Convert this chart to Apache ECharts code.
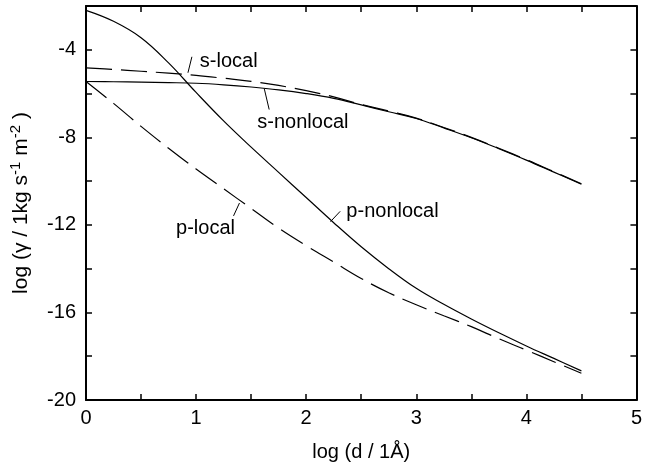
<!DOCTYPE html>
<html>
<head>
<meta charset="utf-8">
<script src="https://cdn.jsdelivr.net/npm/echarts@6/dist/echarts.min.js"></script>
<style>
html,body{margin:0;padding:0;background:#fff;}
#chart{width:645px;height:468px;}
</style>
</head>
<body>
<div id="chart"></div>
<script>
// ---- data ----
const xs = [0, 0.25, 0.5, 0.75, 1.0, 1.25, 1.5, 1.75, 2.0, 2.25, 2.5, 2.75, 3.0, 3.25, 3.5, 3.75, 4.0, 4.25, 4.5];
const sLocal    = [-4.83, -4.9, -4.98, -5.07, -5.17, -5.3, -5.44, -5.63, -5.87, -6.15, -6.5, -6.8, -7.12, -7.55, -8.0, -8.5, -9.02, -9.57, -10.12];
const sNonlocal = [-5.45, -5.46, -5.48, -5.5, -5.53, -5.6, -5.7, -5.83, -6.0, -6.22, -6.52, -6.83, -7.14, -7.57, -8.02, -8.52, -9.04, -9.59, -10.14];
const pLocal    = [-5.45, -6.45, -7.5, -8.5, -9.45, -10.35, -11.25, -12.15, -12.95, -13.7, -14.45, -15.1, -15.65, -16.15, -16.65, -17.2, -17.72, -18.25, -18.78];
const pNonlocal = [-2.2, -2.7, -3.45, -4.6, -5.95, -7.25, -8.45, -9.6, -10.75, -11.9, -13.0, -14.0, -14.9, -15.63, -16.3, -16.93, -17.53, -18.1, -18.67];
const xTickLabels = [0, 1, 2, 3, 4, 5];
const yTickLabels = [-4, -8, -12, -16, -20];
// annotation labels: text, anchor (data coords), leader line from/to (data coords)
const annText  = ['s-local', 's-nonlocal', 'p-nonlocal', 'p-local'];
const annAt    = [[1.034, -4.52], [1.556, -7.32], [2.365, -11.41], [0.818, -12.18]];
const annFrom  = [[0.962, -4.32], [1.619, -5.77], [2.309, -11.38], [1.394, -11.0]];
const annTo    = [[0.926, -5.05], [1.664, -6.73], [2.221, -11.85], [1.34, -11.59]];

const FONT = '"Liberation Sans", Arial, Helvetica, sans-serif';
const pairs = ys => xs.map((x, i) => [x, ys[i]]);

const chart = echarts.init(document.getElementById('chart'), null, {renderer: 'canvas'});

const axisCommon = {
  axisLine: {show: true, onZero: false, lineStyle: {color: '#000', width: 2}},
  axisTick: {show: true, inside: true, length: 6, lineStyle: {color: '#000', width: 1.5}},
  splitLine: {show: false}
};

function lineSeries(name, ys, dashed) {
  return {
    name: name, type: 'line', data: pairs(ys),
    showSymbol: false, symbol: 'none', smooth: 0.4,
    lineStyle: {color: '#000', width: 1.2, type: dashed ? [26, 9] : 'solid'},
    silent: true, animation: false
  };
}

chart.setOption({
  animation: false,
  backgroundColor: '#fff',
  grid: {left: 84, right: 5, top: 6, bottom: 68},
  xAxis: [
    Object.assign({}, axisCommon, {
      type: 'value', position: 'bottom', min: 0, max: 5, interval: 0.5,
      axisLabel: {
        color: '#000', fontSize: 20, fontFamily: FONT, margin: 8,
        formatter: v => xTickLabels.indexOf(v) >= 0 ? String(v) : ''
      },
      name: 'log (d / 1Å)', nameLocation: 'middle', nameGap: 42,
      nameTextStyle: {color: '#000', fontSize: 20, fontFamily: FONT}
    }),
    Object.assign({}, axisCommon, {
      type: 'value', position: 'top', min: 0, max: 5, interval: 0.5,
      axisLabel: {show: false}
    })
  ],
  yAxis: [
    Object.assign({}, axisCommon, {
      type: 'value', position: 'left', min: -20, max: -2, interval: 2,
      axisLabel: {
        color: '#000', fontSize: 20, fontFamily: FONT, margin: 10,
        formatter: v => yTickLabels.indexOf(v) >= 0 ? String(v) : ''
      },
      name: '{a|log (γ / 1kg s}{s|-1}{a| m}{s|-2}{a| )}',
      nameLocation: 'middle', nameGap: 52, nameRotate: 90,
      nameTextStyle: {
        color: '#000', fontFamily: FONT,
        rich: {
          a: {fontSize: 21, fontFamily: FONT, color: '#000', lineHeight: 26},
          s: {fontSize: 15, fontFamily: FONT, color: '#000', lineHeight: 26, verticalAlign: 'top', padding: [0, 0, 10, 0]}
        }
      }
    }),
    Object.assign({}, axisCommon, {
      type: 'value', position: 'right', min: -20, max: -2, interval: 2,
      axisLabel: {show: false}
    })
  ],
  series: [
    lineSeries('s-local', sLocal, true),
    lineSeries('s-nonlocal', sNonlocal, false),
    lineSeries('p-local', pLocal, true),
    lineSeries('p-nonlocal', pNonlocal, false)
  ]
});

// annotations placed through the chart's own coordinate conversion
const graphics = [];
annText.forEach((t, i) => {
  const p = chart.convertToPixel({gridIndex: 0}, annAt[i]);
  const a = chart.convertToPixel({gridIndex: 0}, annFrom[i]);
  const b = chart.convertToPixel({gridIndex: 0}, annTo[i]);
  graphics.push({
    type: 'text', x: p[0], y: p[1], silent: true,
    style: {text: t, fill: '#000', font: '20px ' + FONT, textAlign: 'left', textVerticalAlign: 'middle'}
  });
  graphics.push({
    type: 'line', silent: true,
    shape: {x1: a[0], y1: a[1], x2: b[0], y2: b[1]},
    style: {stroke: '#000', lineWidth: 1}
  });
});
chart.setOption({graphic: graphics});
</script>
</body>
</html>
